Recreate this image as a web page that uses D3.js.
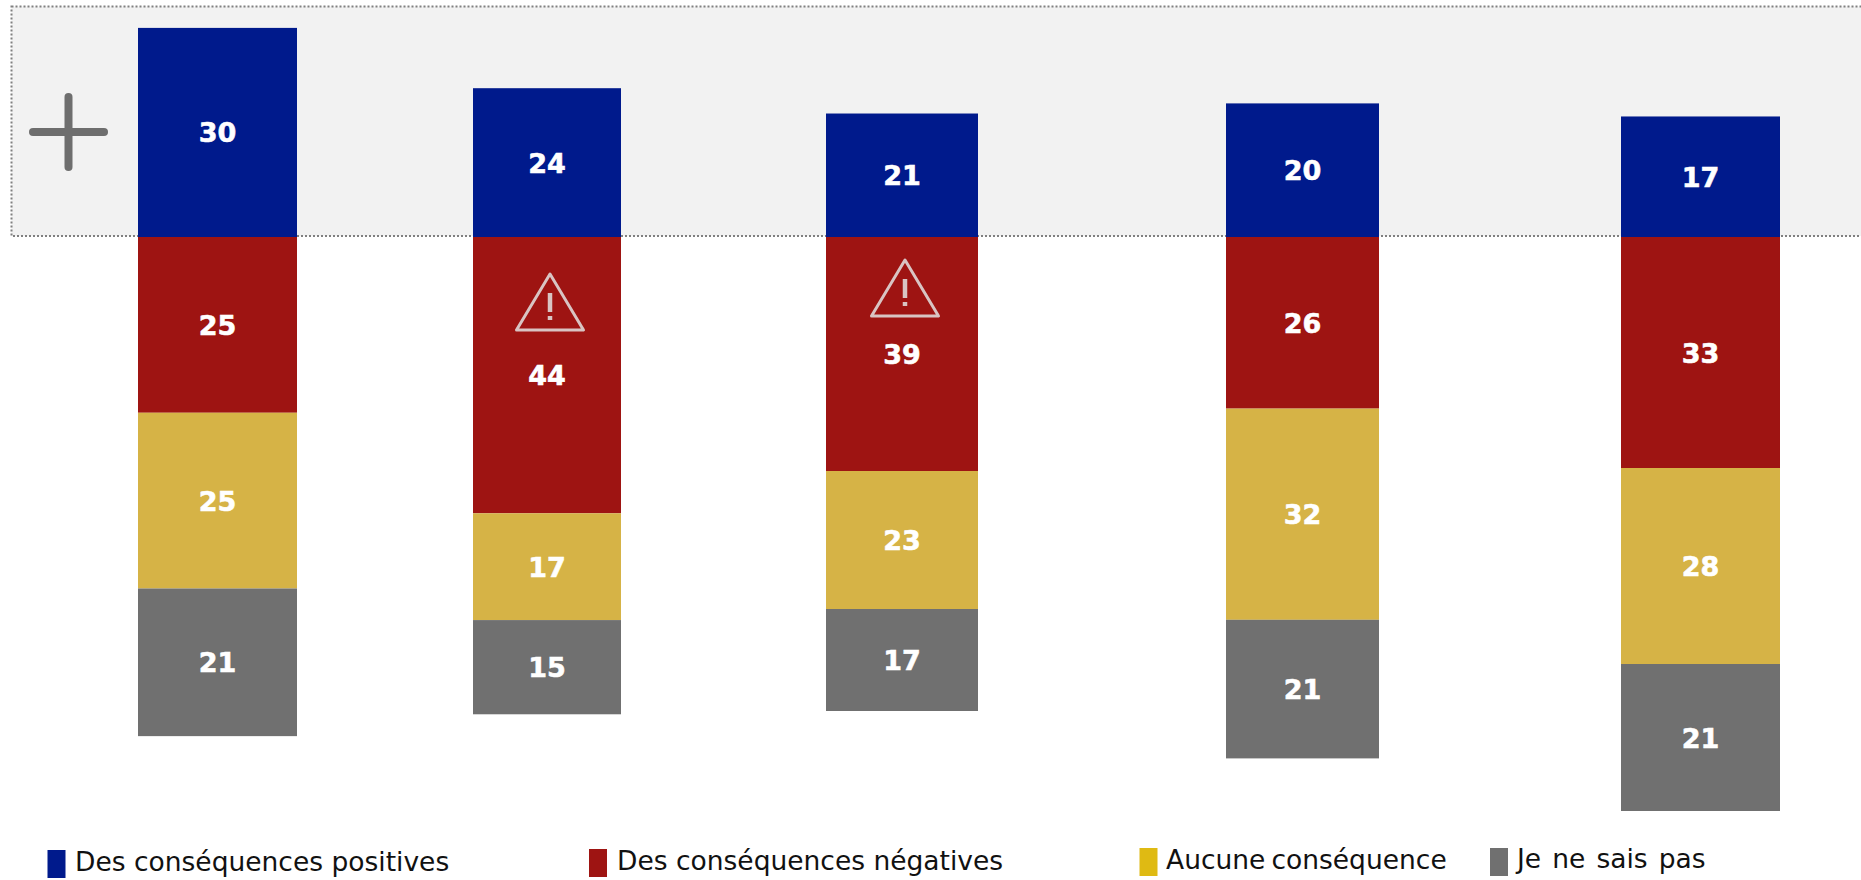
<!DOCTYPE html>
<html>
<head>
<meta charset="utf-8">
<script src="https://cdn.jsdelivr.net/npm/d3@7"></script>
<style>
	html, body { margin: 0; padding: 0; background: #fff; }
	svg { display: block; }
	text { font-family: "DejaVu Sans", Verdana, sans-serif; }
</style>
</head>
<body>
<div id="chart_area"></div>
<script>

// values, one entry per column
var positives = [30, 24, 21, 20, 17];
var negatives = [25, 44, 39, 26, 33];
var aucune = [25, 17, 23, 32, 28];
var nsp = [21, 15, 17, 21, 21];

var series_names = ["Des conséquences positives", "Des conséquences négatives", "Aucune conséquence", "Je ne sais pas"];
var warning_columns = [1, 2];

// Layout. The columns of the original do not share a scale, so each gets its own,
// and the part above the baseline is not quite the same as the part below.
var frame_width = 1861;
var frame_height = 880;
var baseline = 237;
var column_left = [138, 473, 826, 1226, 1621];
var column_right = [297, 621, 978, 1379, 1780];
var unit_up = [6.97, 6.2, 5.88, 6.68, 7.09];
var unit_down = [7.03, 6.28, 6.0, 6.6, 7.0];

var bar_colours = ["#001a8c", "#9e1412", "#d6b346", "#707070"];
var legend_colours = ["#001a8c", "#9e1412", "#dfba13", "#707070"];
var legend_swatch_x = [47.5, 589, 1139.5, 1490];
var legend_swatch_y = [850, 849, 848, 848];
var legend_text_x = [75, 617, 1166, 1517];
var legend_text_y = [871, 870, 869, 868];
var legend_word_spacing = [0, 0, -2.4, 2.7];

var frame = d3.select("#chart_area").append("svg")
	.attr("width", frame_width)
	.attr("height", frame_height);

// Grey "positive" band with its dotted edge
frame.append("rect")
	.attr("x", 11.5)
	.attr("y", 6.5)
	.attr("width", frame_width + 20)
	.attr("height", 229.5)
	.attr("fill", "#f2f2f2")
	.attr("stroke", "#808080")
	.attr("stroke-width", 2)
	.attr("stroke-dasharray", "2,2");

var plus = frame.append("g")
	.attr("stroke", "#6e6e6e")
	.attr("stroke-width", 8)
	.attr("stroke-linecap", "round");
plus.append("line").attr("x1", 33).attr("x2", 104).attr("y1", 132).attr("y2", 132);
plus.append("line").attr("x1", 68.5).attr("x2", 68.5).attr("y1", 97).attr("y2", 167);

// One row per column: positive goes up from the baseline, the others stack down
var columns = positives.map(function(p, i) {
	var y = d3.scaleLinear()
		.domain([-1, 0, 1])
		.range([baseline - unit_up[i], baseline, baseline + unit_down[i]]);
	var x = d3.scaleLinear().domain([0, 1]).range([column_left[i], column_right[i]]);
	var below = [negatives[i], aucune[i], nsp[i]];
	var stack = [{serie: 0, from: -p, to: 0, value: p}];
	var total = 0;
	below.forEach(function(v, k) {
		stack.push({serie: k + 1, from: total, to: total + v, value: v});
		total += v;
	});
	return {index: i, x: x, y: y, stack: stack};
});

var column = frame.selectAll(".column")
	.data(columns)
	.enter().append("g")
	.attr("class", "column");

column.selectAll("rect")
	.data(function(d) { return d.stack.map(function(s) { return {s: s, c: d}; }); })
	.enter().append("rect")
	.attr("x", function(d) { return d.c.x(0); })
	.attr("width", function(d) { return d.c.x(1) - d.c.x(0); })
	.attr("y", function(d) { return d.c.y(d.s.from); })
	.attr("height", function(d) { return d.c.y(d.s.to) - d.c.y(d.s.from); })
	.attr("fill", function(d) { return bar_colours[d.s.serie]; });

column.selectAll("text")
	.data(function(d) { return d.stack.map(function(s) { return {s: s, c: d}; }); })
	.enter().append("text")
	.attr("x", function(d) { return d.c.x(0.5); })
	.attr("y", function(d) { return d.c.y((d.s.from + d.s.to) / 2) + 10; })
	.attr("text-anchor", "middle")
	.attr("font-size", 27)
	.attr("font-weight", "bold")
	.attr("fill", "#fff")
	.attr("stroke", "#fff")
	.attr("stroke-width", 0.6)
	.text(function(d) { return d.s.value; });

// Warning triangles on the red segments
var warning = frame.selectAll(".warning")
	.data(warning_columns)
	.enter().append("g")
	.attr("class", "warning")
	.attr("transform", function(i) {
		var top = i == 1 ? 302 : 288;
		return "translate(" + (columns[i].x(0.5) + 3) + "," + top + ")";
	})
	.attr("stroke", "#d9c4c3")
	.attr("fill", "none");

warning.append("path")
	.attr("d", "M0,-28 L33.5,28 L-33.5,28 Z")
	.attr("stroke-width", 3)
	.attr("stroke-linejoin", "round");
warning.append("line")
	.attr("y1", -9).attr("y2", 10)
	.attr("stroke-width", 4.5);
warning.append("line")
	.attr("y1", 14).attr("y2", 18)
	.attr("stroke-width", 4.5);

// Legend
var legend = frame.selectAll(".legend")
	.data(series_names)
	.enter().append("g")
	.attr("class", "legend");

legend.append("rect")
	.attr("x", function(d, i) { return legend_swatch_x[i]; })
	.attr("y", function(d, i) { return legend_swatch_y[i]; })
	.attr("width", 18)
	.attr("height", 28)
	.attr("fill", function(d, i) { return legend_colours[i]; });

legend.append("text")
	.attr("x", function(d, i) { return legend_text_x[i]; })
	.attr("y", function(d, i) { return legend_text_y[i]; })
	.attr("font-size", 26.5)
	.attr("fill", "#111")
	.style("word-spacing", function(d, i) { return legend_word_spacing[i] + "px"; })
	.text(function(d) { return d; });

</script>
</body>
</html>
